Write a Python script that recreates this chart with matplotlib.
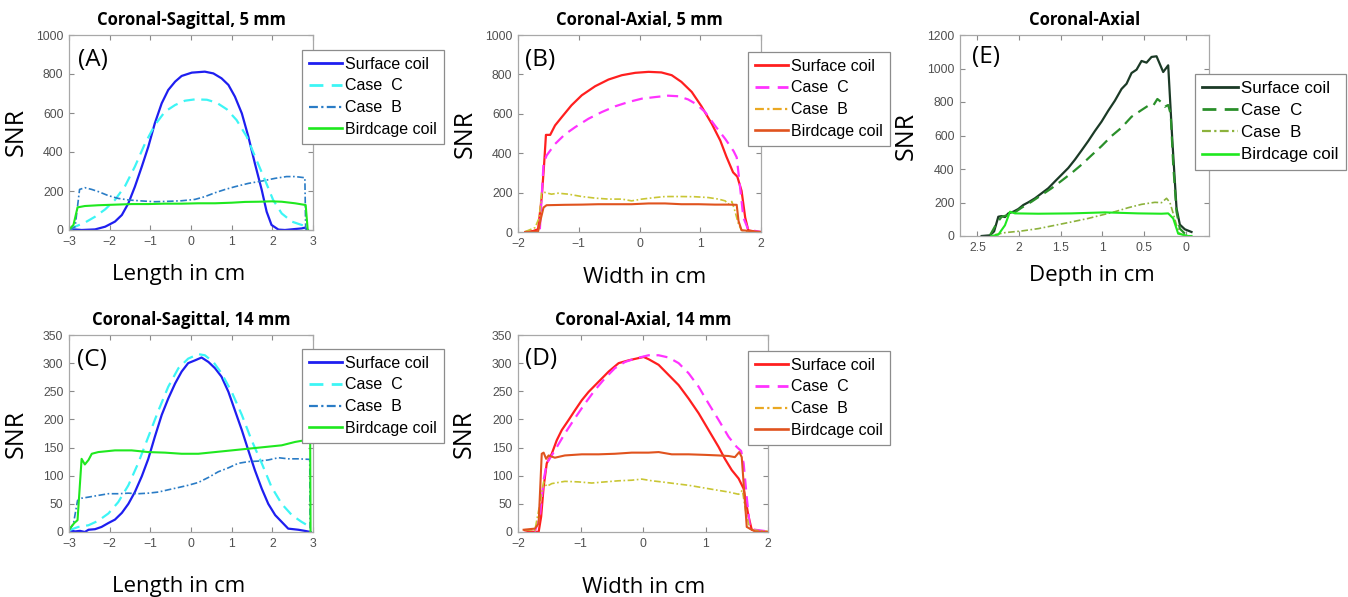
import matplotlib
matplotlib.use('Agg')
import matplotlib.pyplot as plt
from matplotlib.lines import Line2D

# Dados (SNR)
LABELS = ['Surface coil', 'Case  C', 'Case  B', 'Birdcage coil']

# (A) Coronal-Sagittal, 5 mm
a_x_surface = [-3, -2.69, -2.36, -2.11, -1.87, -1.70, -1.54, -1.38, -1.21, -1.05, -0.89, -0.72, -0.56, -0.39, -0.23,
               0.02, 0.34, 0.55, 0.75, 0.92, 1.08, 1.25, 1.41, 1.57, 1.74, 1.86, 1.98, 2.15, 2.31, 2.56, 2.72, 2.80, 2.87]
a_y_surface = [5, 0, 3, 17, 43, 77, 137, 222, 325, 427, 547, 650, 718, 761, 790,
               807, 812, 803, 778, 744, 684, 598, 479, 342, 205, 94, 26, 2, 0, 5, 8, 12, 0]
a_x_caseC = [-2.98, -2.85, -2.61, -2.36, -2.11, -1.87, -1.62, -1.38, -1.13, -0.89, -0.64, -0.39, -0.15, 0.10, 0.39,
             0.63, 0.88, 1.12, 1.37, 1.61, 1.82, 2.02, 2.23, 2.48, 2.72, 2.84]
a_y_caseC = [3, 17, 38, 68, 106, 154, 226, 325, 444, 538, 607, 641, 663, 670, 668,
             653, 619, 564, 479, 359, 256, 154, 85, 43, 26, 17]
a_x_caseB = [-2.98, -2.85, -2.74, -2.61, -2.44, -2.28, -2.03, -1.79, -1.54, -1.21, -0.89, -0.56, -0.23, 0.10, 0.34,
             0.59, 0.84, 1.08, 1.41, 1.74, 2.07, 2.35, 2.56, 2.80, 2.82]
a_y_caseB = [0, 17, 208, 217, 208, 197, 176, 162, 154, 149, 145, 147, 150, 157, 171,
             191, 208, 222, 239, 251, 265, 274, 274, 268, 3]
a_x_bird = [-3, -2.89, -2.79, -2.61, -2.28, -1.87, -1.46, -1.05, -0.64, -0.23, 0.18, 0.59, 1.00, 1.33, 1.66,
            1.98, 2.23, 2.56, 2.82, 2.87]
a_y_bird = [3, 26, 116, 123, 127, 130, 133, 133, 135, 135, 137, 137, 140, 144, 145,
            147, 145, 137, 128, 0]

# (B) Coronal-Axial, 5 mm
b_x_surface = [-1.88, -1.75, -1.67, -1.61, -1.57, -1.54, -1.47, -1.39, -1.28, -1.12, -0.95, -0.73, -0.51, -0.29, -0.07,
               0.15, 0.36, 0.53, 0.69, 0.86, 1.02, 1.19, 1.33, 1.43, 1.54, 1.61, 1.68, 1.74, 1.79, 1.90, 2.0]
b_y_surface = [0, 5, 14, 175, 345, 493, 493, 541, 583, 643, 694, 740, 774, 796, 808,
               813, 810, 796, 762, 711, 638, 549, 464, 383, 303, 281, 209, 73, 9, 2, 0]
b_x_caseC = [-1.64, -1.58, -1.53, -1.39, -1.23, -1.06, -0.84, -0.62, -0.40, -0.18, 0.04, 0.26, 0.47, 0.64, 0.80,
             0.94, 1.08, 1.24, 1.41, 1.55, 1.60, 1.65, 1.71, 1.79, 2.0]
b_y_caseC = [14, 345, 388, 447, 495, 532, 575, 609, 638, 660, 677, 685, 692, 689, 673,
             648, 609, 541, 473, 410, 379, 243, 73, 12, 0]
b_x_caseB = [-1.88, -1.72, -1.65, -1.61, -1.56, -1.45, -1.34, -1.17, -0.95, -0.73, -0.51, -0.29, -0.13, 0.04, 0.26,
             0.42, 0.69, 0.91, 1.13, 1.30, 1.41, 1.46, 1.52, 1.57, 1.63, 1.68, 1.79]
b_y_caseB = [2, 22, 73, 201, 201, 192, 197, 192, 180, 172, 167, 167, 158, 167, 175,
             180, 180, 179, 175, 167, 158, 141, 155, 107, 39, 9, 0]
b_x_bird = [-1.88, -1.67, -1.62, -1.58, -1.53, -1.23, -0.95, -0.68, -0.40, -0.13, 0.15, 0.42, 0.69, 0.97, 1.24,
            1.46, 1.60, 1.63, 1.68, 2.0]
b_y_bird = [0, 2, 73, 124, 136, 138, 139, 141, 141, 141, 145, 145, 141, 141, 139,
            139, 138, 56, 9, 0]

# (C) Coronal-Sagittal, 14 mm
c_x_surface = [-3, -2.85, -2.73, -2.61, -2.52, -2.36, -2.20, -2.03, -1.87, -1.70, -1.54, -1.38, -1.21, -1.05, -0.89,
               -0.72, -0.56, -0.39, -0.23, -0.07, 0.10, 0.26, 0.43, 0.59, 0.75, 0.92, 1.08, 1.25, 1.41, 1.57,
               1.74, 1.90, 2.07, 2.23, 2.39, 2.64, 2.80, 2.94]
c_y_surface = [3, 1, 2, 0, 4, 5, 9, 16, 22, 34, 50, 71, 99, 130, 169,
               208, 237, 264, 285, 300, 305, 310, 302, 291, 276, 249, 216, 181, 145, 110,
               77, 50, 30, 18, 6, 4, 2, 0]
c_x_caseC = [-3, -2.77, -2.52, -2.28, -2.03, -1.79, -1.54, -1.30, -1.05, -0.80, -0.56, -0.31, -0.07, 0.18, 0.34,
             0.55, 0.75, 1.00, 1.25, 1.49, 1.74, 1.98, 2.23, 2.48, 2.72, 2.93]
c_y_caseC = [3, 9, 12, 20, 33, 53, 83, 122, 169, 216, 258, 291, 308, 316, 314,
             302, 282, 249, 208, 163, 122, 80, 50, 30, 18, 9]
c_x_caseB = [-3, -2.89, -2.79, -2.69, -2.52, -2.28, -2.03, -1.79, -1.54, -1.30, -1.05, -0.80, -0.56, -0.31, -0.07,
             0.18, 0.43, 0.67, 0.92, 1.16, 1.41, 1.66, 1.90, 2.15, 2.39, 2.64, 2.92, 2.93]
c_y_caseB = [3, 15, 56, 60, 62, 65, 68, 68, 69, 68, 69, 71, 75, 79, 83,
             88, 97, 107, 114, 122, 125, 126, 128, 132, 130, 130, 129, 0]
c_x_bird = [-3, -2.87, -2.79, -2.69, -2.61, -2.52, -2.44, -2.28, -1.87, -1.46, -1.05, -0.64, -0.23, 0.18, 0.59,
            1.00, 1.41, 1.82, 2.23, 2.56, 2.80, 2.93, 2.94]
c_y_bird = [4, 16, 21, 130, 120, 128, 139, 142, 145, 145, 142, 141, 139, 139, 142,
            145, 148, 151, 154, 160, 163, 170, 0]

# (D) Coronal-Axial, 14 mm
d_x_surface = [-1.89, -1.81, -1.67, -1.63, -1.59, -1.54, -1.46, -1.38, -1.30, -1.19, -1.09, -0.98, -0.87, -0.71, -0.55,
               -0.39, -0.23, -0.07, 0.01, 0.09, 0.25, 0.41, 0.57, 0.73, 0.89, 1.05, 1.21, 1.31, 1.42, 1.53,
               1.61, 1.69, 1.74, 1.85, 2.0]
d_y_surface = [3, 1, 0, 27, 80, 122, 139, 163, 181, 199, 216, 234, 249, 267, 285,
               300, 305, 309, 311, 307, 297, 279, 261, 237, 211, 181, 151, 130, 110, 95,
               77, 27, 4, 2, 0]
d_x_caseC = [-1.73, -1.65, -1.59, -1.54, -1.41, -1.25, -1.09, -0.93, -0.77, -0.61, -0.45, -0.29, -0.13, 0.09, 0.25,
             0.41, 0.57, 0.73, 0.89, 1.05, 1.21, 1.37, 1.50, 1.57, 1.61, 1.66, 1.71, 1.79, 2.0]
d_y_caseC = [1, 27, 92, 122, 145, 175, 202, 228, 252, 273, 291, 302, 308, 314, 314,
             310, 300, 282, 258, 228, 199, 169, 151, 144, 122, 62, 9, 4, 1]
d_x_caseB = [-1.89, -1.73, -1.65, -1.59, -1.54, -1.46, -1.25, -1.03, -0.82, -0.61, -0.39, -0.18, -0.02, 0.14, 0.30,
             0.51, 0.73, 0.94, 1.15, 1.37, 1.53, 1.59, 1.64, 1.71, 2.0]
d_y_caseB = [4, 3, 50, 89, 81, 86, 90, 89, 87, 89, 91, 92, 94, 91, 89,
             86, 83, 79, 75, 71, 67, 74, 39, 4, 1]
d_x_bird = [-1.91, -1.73, -1.67, -1.62, -1.59, -1.55, -1.51, -1.41, -1.25, -0.98, -0.71, -0.45, -0.18, 0.09, 0.25,
            0.46, 0.73, 1.0, 1.21, 1.37, 1.47, 1.54, 1.58, 1.66, 1.79, 2.0]
d_y_bird = [4, 6, 15, 139, 141, 130, 136, 132, 136, 138, 138, 139, 141, 141, 142,
            138, 138, 137, 136, 135, 133, 142, 133, 9, 1, 0]

# (E) Coronal-Axial (profundidade)
e_x_surface = [2.45, 2.35, 2.30, 2.25, 2.21, 2.17, 2.13, 2.07, 2.01, 1.95, 1.89, 1.81, 1.73, 1.65, 1.57,
               1.49, 1.41, 1.33, 1.25, 1.17, 1.09, 1.01, 0.93, 0.85, 0.77, 0.71, 0.65, 0.59, 0.53, 0.47,
               0.41, 0.35, 0.27, 0.21, 0.16, 0.11, 0.07, 0.01, -0.07]
e_y_surface = [0, 4, 28, 115, 119, 113, 135, 145, 161, 185, 201, 225, 255, 285, 326,
               366, 406, 456, 511, 567, 627, 683, 748, 808, 878, 909, 973, 993, 1045, 1035,
               1069, 1073, 979, 1019, 567, 165, 68, 40, 24]
e_x_caseC = [2.35, 2.27, 2.21, 2.13, 2.07, 1.97, 1.85, 1.73, 1.61, 1.49, 1.37, 1.25, 1.13, 1.01, 0.89,
             0.77, 0.65, 0.53, 0.45, 0.39, 0.34, 0.29, 0.25, 0.21, 0.18, 0.15, 0.11, 0.07, 0.01]
e_y_caseC = [4, 75, 115, 125, 135, 169, 205, 245, 285, 330, 376, 426, 482, 537, 597,
             647, 712, 752, 778, 778, 818, 798, 772, 782, 728, 426, 145, 44, 14]
e_x_caseB = [2.29, 2.17, 1.97, 1.77, 1.57, 1.37, 1.17, 1.01, 0.85, 0.69, 0.53, 0.37, 0.29, 0.23, 0.19,
             0.15, 0.11, 0.07, 0.01]
e_y_caseB = [8, 20, 30, 44, 64, 84, 105, 125, 145, 169, 189, 201, 199, 225, 201,
             135, 64, 14, 4]
e_x_bird = [2.33, 2.25, 2.17, 2.11, 2.05, 1.77, 1.37, 0.97, 0.57, 0.29, 0.21, 0.15, 0.09, -0.03, -0.07]
e_y_bird = [0, 8, 64, 145, 135, 133, 135, 141, 135, 133, 135, 105, 14, 0, 0]

# Eixos
ticks_length = [-3, -2, -1, 0, 1, 2, 3]
ticks_width = [-2, -1, 0, 1, 2]
ticks_depth = [2.5, 2, 1.5, 1, 0.5, 0]
ticks_depth_labels = ['2.5', '2', '1.5', '1', '0.5', '0']
ticks_snr_1000 = [0, 200, 400, 600, 800, 1000]
ticks_snr_1200 = [0, 200, 400, 600, 800, 1000, 1200]
ticks_snr_350 = [0, 50, 100, 150, 200, 250, 300, 350]

# Cores / estilos
DASH = (0, (5, 3))
DASHDOT = (0, (4, 1.5, 1, 1.5))
cores_sag = ['#1e1ef0', '#3df5f5', '#2a7cc6', '#1fe81f']
cores_axi = ['#ff1f1f', '#ff33ff', '#c9c634', '#e0531e']
cor_axi_caseB_legenda = '#eaa822'
cores_dep = ['#1b3a26', '#2a8f2a', '#8cb23c', '#1fe81f']
estilos = ['-', DASH, DASHDOT, '-']
larguras = [1.6, 1.6, 1.2, 1.5]

W, H = 1348, 597
fig = plt.figure(figsize=(W / 100, H / 100), dpi=100)

FONTE_LABEL = 'Open Sans'
FONTE_TICK = 'Liberation Sans'


def painel(rect_px, xs, ys, cores, xlim, ylim, xticks, yticks, titulo, xlabel, letra,
           leg_px, xlabel_pos, letra_pos, leg_size=11.5, xticklabels=None, leg_cores=None):
    l, r, t, b = rect_px
    ax = fig.add_axes([l / W, 1 - b / H, (r - l) / W, (b - t) / H])
    for i in range(4):
        ax.plot(xs[i], ys[i], color=cores[i], linestyle=estilos[i], linewidth=larguras[i])
    ax.set_xlim(xlim)
    ax.set_ylim(ylim)
    ax.set_xticks(xticks)
    if xticklabels is not None:
        ax.set_xticklabels(xticklabels)
    ax.set_yticks(yticks)
    ax.tick_params(direction='in', top=True, right=True, length=3.5, width=0.8, color='#8a8a8a',
                   labelcolor='#505050', labelsize=8.8, pad=4)
    for lab in ax.get_xticklabels() + ax.get_yticklabels():
        lab.set_fontfamily(FONTE_TICK)
    for s in ax.spines.values():
        s.set_color('#a8a8a8')
        s.set_linewidth(0.9)
    ax.set_title(titulo, fontsize=12, fontweight='bold', family=FONTE_LABEL, pad=7)
    ax.set_ylabel('SNR', fontsize=18, family=FONTE_LABEL)
    ax.yaxis.set_label_coords(-0.165, 0.5)
    ax.set_xlabel(xlabel, fontsize=16, family=FONTE_LABEL, va='top')
    ax.xaxis.set_label_coords(xlabel_pos[0], xlabel_pos[1])
    ax.text(letra_pos[0], letra_pos[1], letra, transform=ax.transAxes, ha='center', va='center',
            fontsize=17.5, family=FONTE_LABEL)
    if leg_cores is None:
        leg_cores = cores
    handles = [Line2D([0], [0], color=leg_cores[i], linestyle=estilos[i], linewidth=larguras[i] + 0.4)
               for i in range(4)]
    leg = ax.legend(handles, LABELS, loc='upper left', bbox_to_anchor=(leg_px[0] / W, 1 - leg_px[1] / H),
                    bbox_transform=fig.transFigure, borderaxespad=0, fancybox=False, framealpha=1,
                    edgecolor='#8c8c8c', handlelength=2.1, handletextpad=0.2, labelspacing=0.42,
                    borderpad=0.42, prop={'family': FONTE_TICK, 'size': leg_size})
    leg.get_frame().set_linewidth(0.9)
    return ax


painel((69, 313, 35, 230),
       [a_x_surface, a_x_caseC, a_x_caseB, a_x_bird], [a_y_surface, a_y_caseC, a_y_caseB, a_y_bird],
       cores_sag, (-3, 3), (0, 1000), ticks_length, ticks_snr_1000,
       'Coronal-Sagittal, 5 mm', 'Length in cm', '(A)', (302, 50), (0.45, -0.174), (0.098, 0.872))

painel((518, 761, 35, 232),
       [b_x_surface, b_x_caseC, b_x_caseB, b_x_bird], [b_y_surface, b_y_caseC, b_y_caseB, b_y_bird],
       cores_axi, (-2, 2), (0, 1000), ticks_width, ticks_snr_1000,
       'Coronal-Axial, 5 mm', 'Width in cm', '(B)', (748, 52), (0.52, -0.178), (0.09, 0.873),
       leg_cores=cores_axi[:2] + [cor_axi_caseB_legenda] + cores_axi[3:])

painel((960, 1209, 35, 236),
       [e_x_surface, e_x_caseC, e_x_caseB, e_x_bird], [e_y_surface, e_y_caseC, e_y_caseB, e_y_bird],
       cores_dep, (2.71, -0.28), (0, 1200), ticks_depth, ticks_snr_1200,
       'Coronal-Axial', 'Depth in cm', '(E)', (1195, 74), (0.53, -0.144), (0.104, 0.89),
       leg_size=12.2, xticklabels=ticks_depth_labels)

painel((69, 313, 335, 532),
       [c_x_surface, c_x_caseC, c_x_caseB, c_x_bird], [c_y_surface, c_y_caseC, c_y_caseB, c_y_bird],
       cores_sag, (-3, 3), (0, 350), ticks_length, ticks_snr_350,
       'Coronal-Sagittal, 14 mm', 'Length in cm', '(C)', (302, 349), (0.45, -0.223), (0.095, 0.873))

painel((518, 768, 335, 532),
       [d_x_surface, d_x_caseC, d_x_caseB, d_x_bird], [d_y_surface, d_y_caseC, d_y_caseB, d_y_bird],
       cores_axi, (-2, 2), (0, 350), ticks_width, ticks_snr_350,
       'Coronal-Axial, 14 mm', 'Width in cm', '(D)', (748, 351), (0.504, -0.228), (0.092, 0.878),
       leg_cores=cores_axi[:2] + [cor_axi_caseB_legenda] + cores_axi[3:])

fig.savefig('out.png', dpi=100)
